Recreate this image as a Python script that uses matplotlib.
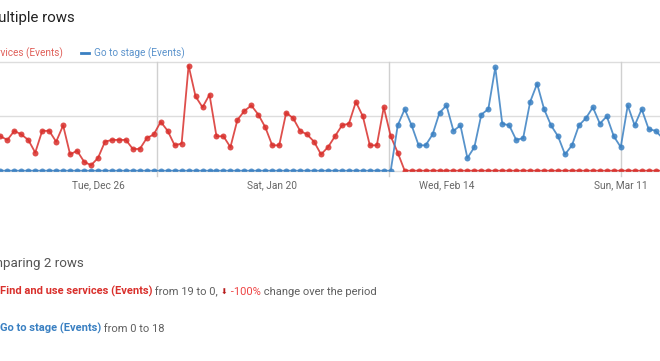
import datetime as dt
import matplotlib
matplotlib.use("Agg")
import matplotlib.pyplot as plt
import matplotlib.dates as mdates
import pandas as pd

# daily values, first day = Tue Dec 12 2017
start = dt.datetime(2017, 12, 12)
dates = pd.date_range(start, periods=96, freq="D")

find_services = [19, 17, 22, 20, 17, 10, 22, 22, 16, 25,
                 9, 11, 5, 3, 7, 16, 17, 17, 17, 12,
                 12, 18, 20, 27, 22, 14, 15, 58, 41, 35,
                 42, 19, 19, 13, 28, 33, 36, 31, 24, 14,
                 14, 32, 29, 22, 20, 16, 9, 13, 19, 25,
                 26, 38, 30, 14, 14, 35, 19, 10, 0, 0,
                 0, 0, 0, 0, 0, 0, 0, 0, 0, 0,
                 0, 0, 0, 0, 0, 0, 0, 0, 0, 0,
                 0, 0, 0, 0, 0, 0, 0, 0, 0, 0,
                 0, 0, 0, 0, 0, 0]

go_to_stage = [0, 0, 0, 0, 0, 0, 0, 0, 0, 0,
               0, 0, 0, 0, 0, 0, 0, 0, 0, 0,
               0, 0, 0, 0, 0, 0, 0, 0, 0, 0,
               0, 0, 0, 0, 0, 0, 0, 0, 0, 0,
               0, 0, 0, 0, 0, 0, 0, 0, 0, 0,
               0, 0, 0, 0, 0, 0, 0, 25, 34, 25,
               14, 14, 20, 32, 36, 22, 25, 7, 13, 31,
               34, 57, 26, 25, 17, 18, 38, 48, 34, 25,
               19, 9, 14, 25, 29, 35, 26, 30, 19, 13,
               36, 25, 34, 23, 22, 18]

tick_dates = [dt.datetime(2017, 12, 26), dt.datetime(2018, 1, 20),
              dt.datetime(2018, 2, 14), dt.datetime(2018, 3, 11)]

RED = "#d9302c"
BLUE = "#3a80c2"
GREY = "#5f5f5f"

plt.rcParams["font.family"] = ["Roboto", "DejaVu Sans"]

W, H = 660, 361
fig = plt.figure(figsize=(W / 100, H / 100), dpi=100)
ax = fig.add_axes([0, (H - 170.7) / H, 1, (170.7 - 62) / H])

ax.plot(dates, find_services, color=RED, lw=1.3, alpha=0.85,
        marker="o", ms=4.3, mfc=RED, mec=RED, mew=0, zorder=3)
ax.plot(dates, go_to_stage, color=BLUE, lw=1.3, alpha=0.85,
        marker="o", ms=4.3, mfc=BLUE, mec=BLUE, mew=0, zorder=4)

x0 = mdates.date2num(start)
ax.set_xlim(x0 - 0.057, x0 + 94.63)
ax.set_ylim(0, 60)

for y in [0, 30, 60]:
    ax.axhline(y, color="#dddddd", lw=1, zorder=1, clip_on=False)
for d in [22.42, 55.75, 89.1]:
    ax.axvline(x0 + d, ymin=-0.045, ymax=1, color="#d0d0d0", lw=1,
               zorder=1, clip_on=False)

for s in ax.spines.values():
    s.set_visible(False)
ax.set_yticks([])
ax.set_xticks(mdates.date2num(tick_dates))
ax.xaxis.set_major_formatter(mdates.DateFormatter("%a, %b %d"))
ax.tick_params(axis="x", length=0, pad=7, labelsize=7.3, labelcolor="#666666")
ax.set_facecolor("none")

renderer = fig.canvas.get_renderer()


def put(x, y, s, **kw):
    return fig.text(x / W, 1 - y / H, s, va="baseline", **kw)


def run(x, y, parts):
    for s, kw in parts:
        t = put(x, y, s, **kw)
        x = t.get_window_extent(renderer).x1
    return x


# cropped header texts (left part cut off by the screenshot)
put(75, 22, "Multiple rows", ha="right", fontsize=10.8, color="#222222")
put(63, 56, "Find and use services (Events)", ha="right", fontsize=7.2,
    color="#e0605a")
fig.add_artist(plt.Line2D([81 / W, 89 / W], [1 - 52.5 / H, 1 - 52.5 / H],
                          color=BLUE, lw=2))
put(94, 56, "Go to stage (Events)", fontsize=7.2, color="#5b93cc")

put(84, 267, "Comparing 2 rows", ha="right", fontsize=9.6, color="#555555")

FS = 8.0
run(0, 295, [("Find and use services (Events)",
              dict(fontsize=FS, color=RED, fontweight="bold")),
             (" from 19 to 0, ", dict(fontsize=FS, color=GREY)),
             ("\u2B07", dict(fontsize=5.8, color="#b71c1c",
                             family=["DejaVu Sans"])),
             (" -100%", dict(fontsize=FS, color="#ef4444")),
             (" change over the period", dict(fontsize=FS, color=GREY))])

run(0, 331.5, [("Go to stage (Events)",
                dict(fontsize=FS, color=BLUE, fontweight="bold")),
               (" from 0 to 18", dict(fontsize=FS, color=GREY))])

fig.savefig("out.png", dpi=100)
